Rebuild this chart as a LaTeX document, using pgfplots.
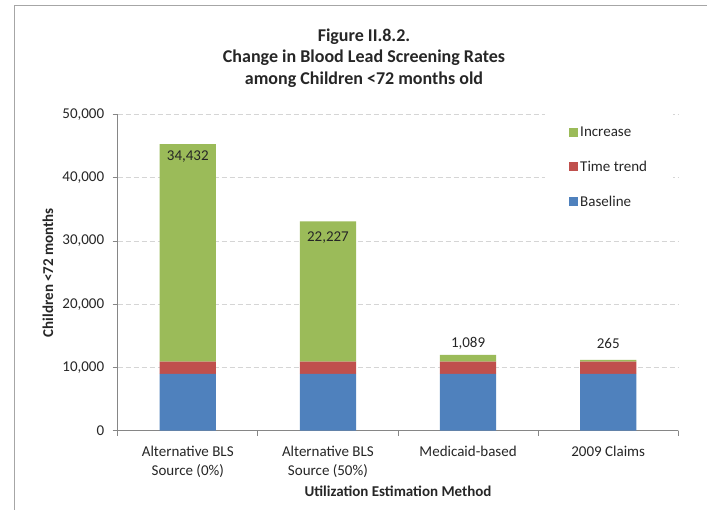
\documentclass[border=0pt]{standalone}
\usepackage{pgfplots}
\pgfplotsset{compat=1.18}
\usepackage{fontspec}
\setmainfont{Carlito}
\definecolor{cBase}{HTML}{4F81BD}
\definecolor{cTrend}{HTML}{C0504D}
\definecolor{cInc}{HTML}{9BBB59}
\definecolor{gridc}{HTML}{D5D5D5}
\definecolor{axc}{HTML}{868686}
\definecolor{framec}{HTML}{A6A6A6}
\definecolor{txt}{HTML}{262626}
\begin{document}
\begin{tikzpicture}[x=1pt,y=1pt]
\useasboundingbox (0,0) rectangle (707,509);
\fill[white] (0,0) rectangle (707,509);
\draw[framec, line width=1pt] (14,-5) -- (14,503) -- (712,503);
\node[font=\fontsize{18}{21.5}\selectfont\bfseries, align=center, text=txt] at (364,451) {Figure II.8.2.\\Change in Blood Lead Screening Rates\\among Children <72 months old};
\begin{axis}[
  at={(117.7pt,78.5pt)}, anchor=south west,
  scale only axis, width=560.6pt, height=315.8pt,
  ybar stacked, bar width=56.3pt,
  xmin=-0.5, xmax=3.5, ymin=0, ymax=50000,
  xtick={-0.5,0.5,1.5,2.5,3.5},
  x tick label as interval,
  xticklabels={{Alternative BLS\\Source (0\%)},{Alternative BLS\\Source (50\%)},{Medicaid-based},{2009 Claims}},
  xticklabel style={align=center, font=\fontsize{15}{19}\selectfont, text=txt, yshift=-7pt},
  ytick={0,10000,20000,30000,40000,50000},
  yticklabel style={font=\fontsize{15}{19}\selectfont, text=txt, xshift=-5pt},
  scaled y ticks=false,
  /pgf/number format/1000 sep={,},
  /pgf/number format/assume math mode=true,
  axis x line*=bottom, axis y line*=left,
  axis line style={-, draw=axc, line width=0.8pt},
  tick align=outside, major tick length=5pt,
  tick style={draw=axc, line width=0.8pt},
  ymajorgrids, xmajorgrids=false,
  grid style={gridc, dash pattern=on 5pt off 3pt, line width=0.8pt},
  xlabel={Utilization Estimation Method},
  ylabel={Children <72 months},
  every axis x label/.style={at={(axis description cs:0.5,-0.1916)}, anchor=center, font=\bfseries\fontsize{15}{18}\selectfont, text=txt},
  every axis y label/.style={at={(axis description cs:-0.1243,0.5)}, anchor=center, rotate=90, font=\bfseries\fontsize{15}{18}\selectfont, text=txt},
  reverse legend,
  legend style={at={(axis description cs:0.7623,1.015)}, anchor=north west, draw=none, fill=white,
    inner xsep=24pt, inner ysep=14.5pt, row sep=19pt,
    font=\fontsize{15}{18}\selectfont, text=txt},
  legend cell align=left,
  legend image code/.code={\fill[#1] (0pt,-4.5pt) rectangle (9pt,4.5pt);},
]
\addplot[fill=cBase, draw=none] coordinates {(0,8950) (1,8950) (2,8950) (3,8950)};
\addplot[fill=cTrend, draw=none] coordinates {(0,1950) (1,1950) (2,1950) (3,1950)};
\addplot[fill=cInc, draw=none] coordinates {(0,34432) (1,22227) (2,1089) (3,265)};
\legend{Baseline,Time trend,Increase}
\coordinate (l1) at (axis cs:0,43350);
\coordinate (l2) at (axis cs:1,30590);
\coordinate (l3) at (axis cs:2,13750);
\coordinate (l4) at (axis cs:3,13750);
\end{axis}
\node[font=\fontsize{15}{18}\selectfont, text=txt] at (l1) {34,432};
\node[font=\fontsize{15}{18}\selectfont, text=txt] at (l2) {22,227};
\node[font=\fontsize{15}{18}\selectfont, text=txt] at (l3) {1,089};
\node[font=\fontsize{15}{18}\selectfont, text=txt] at (l4) {265};
\end{tikzpicture}
\end{document}
